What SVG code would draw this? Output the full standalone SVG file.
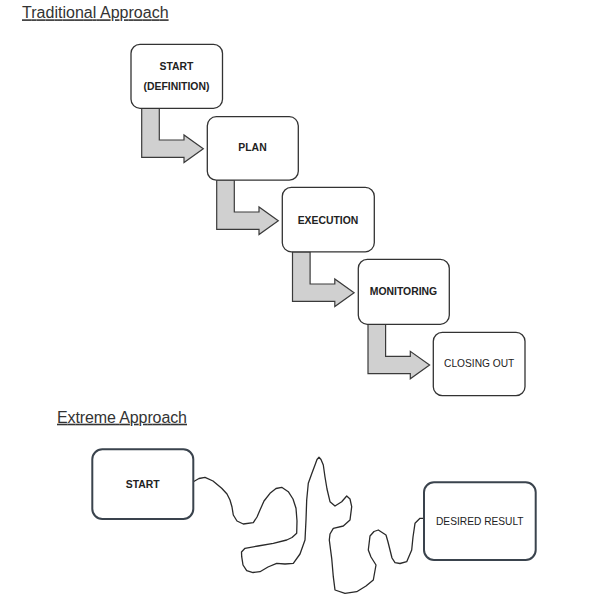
<svg xmlns="http://www.w3.org/2000/svg" width="597" height="600" viewBox="0 0 597 600">
<style>
.title{font-family:"Liberation Sans",Arial,sans-serif;font-size:16px;fill:#333;text-decoration:underline}
.box{fill:#fff;stroke:#333;stroke-width:1.3}
.xbox{fill:#fff;stroke:#3a434d;stroke-width:2}
.lb{font-family:"Liberation Sans",Arial,sans-serif;font-size:10.4px;font-weight:bold;fill:#222;text-anchor:middle}
.lr{font-family:"Liberation Sans",Arial,sans-serif;font-size:10.2px;fill:#222;text-anchor:middle}
.arr{fill:#d0d0d0;stroke:#3a3a3a;stroke-width:1.2;stroke-linejoin:miter}
.sq{fill:none;stroke:#2a2a2a;stroke-width:1.3;stroke-linejoin:round;stroke-linecap:round}
</style>
<defs>
<path id="bend" d="M0,0 L17.6,0 L17.6,32 L42.3,32 L42.3,27 L61.6,40.7 L42.3,54.5 L42.3,49.3 L0,49.3 Z"/>
</defs>
<rect width="597" height="600" fill="#fff"/>
<text class="title" x="22" y="18.3" textLength="146.6">Traditional Approach</text>
<text class="title" x="57" y="422.7" textLength="130">Extreme Approach</text>
<g id="connectors">
<use href="#bend" class="arr" x="141.7" y="108"/>
<use href="#bend" class="arr" x="216.7" y="180"/>
<use href="#bend" class="arr" x="292.5" y="252"/>
<use href="#bend" class="arr" x="368" y="324.3"/>
<polyline class="sq" points="193.3,481.7 199,478.5 205,477.3 213,481 221.7,488.3 227,494 230,500 232,507 233.3,515 237,521 243.3,524 253.3,522.7 257,517 260,510 264,501 270,493.3 276,488.5 281.7,487.3 288.3,491.7 293,499 296,508.3 297,521 296.7,533.3 292,537.5 286.7,540 273.3,543.3 258,546 245,548.3 241.5,552 241.7,556.7 243,565 246.7,570.7 253,572.5 260,571.7 268,567 276.7,563.3 285,564 293.3,563.3 300,554 305,540 306,520 306.7,500 308.3,483.3 312,473 315,465 317,459.5 319,457.3 321,459.5 323.3,465 325,477 327,489 330,501.7 335,506 341.7,501.7 346.7,496 350,499 351.7,506.7 350,520 343.3,526 333.3,528.3 330,534 329.3,540 331.7,558.3 333.3,576.7 335,590 345,593.3 356.7,591.7 366,586 373.3,580 376,565 371,557 368.3,550 370,536 374,531.5 378.3,530 386,535 388,542 390,550 392,558 395,562.7 400,563.5 406.7,561.7 411.7,550 413,537 415,523.3 420,518.3 424,518.3"/>
</g>
<g id="t-start">
<rect class="box" x="131" y="44.3" width="91.5" height="64" rx="9"/>
<text class="lb" x="176.5" y="70.3">START</text>
<text class="lb" x="176.5" y="89.8">(DEFINITION)</text>
</g>
<g id="t-plan">
<rect class="box" x="207.3" y="116.7" width="91" height="63.5" rx="9"/>
<text class="lb" x="252.5" y="151.2">PLAN</text>
</g>
<g id="t-execution">
<rect class="box" x="282.3" y="187.3" width="92" height="64.5" rx="9"/>
<text class="lb" x="328" y="223.8">EXECUTION</text>
</g>
<g id="t-monitoring">
<rect class="box" x="358.3" y="259.3" width="91" height="65" rx="9"/>
<text class="lb" x="403.5" y="295.2">MONITORING</text>
</g>
<g id="t-closing">
<rect class="box" x="433.3" y="332.3" width="91.7" height="63.4" rx="9"/>
<text class="lr" x="479.2" y="367.2">CLOSING OUT</text>
</g>
<g id="x-start">
<rect class="xbox" x="92.3" y="449.3" width="101" height="69.7" rx="10"/>
<text class="lb" x="142.8" y="488.2">START</text>
</g>
<g id="x-result">
<rect class="xbox" x="424" y="482.3" width="111.7" height="77.7" rx="10"/>
<text class="lr" x="479.8" y="525.2">DESIRED RESULT</text>
</g>
</svg>
